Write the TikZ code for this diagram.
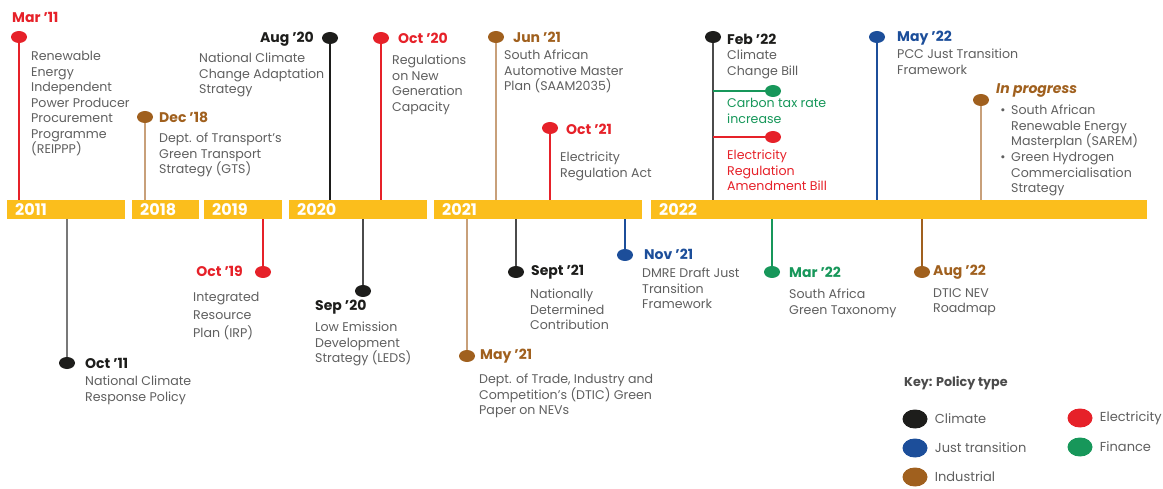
\documentclass[tikz,border=0pt]{standalone}
\usepackage{fontspec}
\setmainfont{Poppins}
\usetikzlibrary{positioning,shapes.geometric}
\definecolor{tlyellow}{RGB}{251,190,28}
\definecolor{tlred}{RGB}{230,33,41}
\definecolor{tlblack}{RGB}{29,29,27}
\definecolor{tlblue}{RGB}{28,78,154}
\definecolor{tlbrown}{RGB}{160,96,30}
\definecolor{tlgreen}{RGB}{23,151,90}
\definecolor{tltan}{RGB}{200,160,122}
\definecolor{tlgray}{RGB}{120,120,120}
\definecolor{tldgray}{RGB}{75,75,75}
\definecolor{txtgray}{RGB}{95,95,95}
\tikzset{yearbar/.style={rectangle, fill=tlyellow, inner sep=0pt, minimum height=19pt, anchor=north west}}
\tikzset{yeartxt/.style={text=white, font=\bfseries\fontsize{16}{16}\selectfont, inner sep=0pt, anchor=west}}
\tikzset{dot/.style={ellipse, fill=#1, inner sep=0pt, minimum width=16pt, minimum height=12pt}}
\tikzset{keydot/.style={ellipse, fill=#1, inner sep=0pt, minimum width=25pt, minimum height=19pt}}
\tikzset{stem/.style={draw=#1, line width=2pt}}
\tikzset{datelbl/.style={text=#1, font=\bfseries\fontsize{14}{16}\selectfont, inner sep=0pt, anchor=west}}
\tikzset{desc/.style={text=txtgray, font=\fontsize{12.6}{15.5}\selectfont, align=left, inner sep=0pt, anchor=north west}}

\begin{document}
\begin{tikzpicture}[x=1pt,y=-1pt]
    \useasboundingbox (0,0) rectangle (1163,489);

    % year bars
    \foreach \yr/\xa/\w in {2011/7/118, 2018/132/67, 2019/204/78, 2020/289/138, 2021/434/208, 2022/651/496} {
            \node[yearbar, minimum width=\w pt] (bar\yr) at (\xa,200) {};
            \node[yeartxt, right=8pt of bar\yr.west] (lbl\yr) {\yr};
        }

    % events above the bars
    \node[dot=tlred] (mar11) at (19,37) {};
    \node[datelbl=tlred] (mar11d) at (12,17) {Mar '11};
    \node[desc] (mar11t) at (31,51) {Renewable\\Energy\\Independent\\Power Producer\\Procurement\\Programme\\(REIPPP)};

    \node[dot=tlbrown] (dec18) at (145,117) {};
    \node[datelbl=tlbrown] (dec18d) at (159,117) {Dec '18};
    \node[desc] (dec18t) at (159,133) {Dept. of Transport's\\Green Transport\\Strategy (GTS)};

    \node[dot=tlblack] (aug20) at (330,38) {};
    \node[datelbl=tlblack, anchor=east] (aug20d) at (314,39) {Aug '20};
    \node[desc] (aug20t) at (199,53) {National Climate\\Change Adaptation\\Strategy};

    \node[dot=tlred] (oct20) at (381,38) {};
    \node[datelbl=tlred] (oct20d) at (398,38) {Oct '20};
    \node[desc] (oct20t) at (392,55) {Regulations\\on New\\Generation\\Capacity};

    \node[dot=tlbrown] (jun21) at (496,37) {};
    \node[datelbl=tlbrown] (jun21d) at (513,37) {Jun '21};
    \node[desc] (jun21t) at (504,50) {South African\\Automotive Master\\Plan (SAAM2035)};

    \node[dot=tlred] (oct21) at (550,128) {};
    \node[datelbl=tlred] (oct21d) at (566,129) {Oct '21};
    \node[desc] (oct21t) at (560,152) {Electricity\\Regulation Act};

    \node[dot=tlblack] (feb22) at (713,37) {};
    \node[datelbl=tlblack] (feb22d) at (727,39) {Feb '22};
    \node[desc] (feb22t) at (727,50) {Climate\\Change Bill};
    \node[dot=tlgreen] (carbon) at (773,91) {};
    \node[desc, text=tlgreen] (carbont) at (727,98) {Carbon tax rate\\increase};
    \node[dot=tlred] (erab) at (773,137) {};
    \node[desc, text=tlred] (erabt) at (727,150) {Electricity\\Regulation\\Amendment Bill};

    \node[dot=tlblue] (may22) at (877,37) {};
    \node[datelbl=tlblue] (may22d) at (897,38) {May '22};
    \node[desc] (may22t) at (897,49) {PCC Just Transition\\Framework};

    \node[dot=tlbrown] (inprog) at (981,100) {};
    \node[datelbl=tlbrown, font=\bfseries\itshape\fontsize{14}{16}\selectfont] (inprogd) at (996,91) {In progress};
    \node[desc, anchor=center] (bullet1) at (1003,112) {\textbullet};
    \node[desc] (inprogt1) at (1011,105) {South African\\Renewable Energy\\Masterplan (SAREM)};
    \node[desc, anchor=center] (bullet2) at (1003,159) {\textbullet};
    \node[desc] (inprogt2) at (1011,152) {Green Hydrogen\\Commercialisation\\Strategy};

    % events below the bars
    \node[dot=tlblack] (oct11) at (67,363) {};
    \node[datelbl=tlblack] (oct11d) at (85,363) {Oct '11};
    \node[desc] (oct11t) at (85,376) {National Climate\\Response Policy};

    \node[dot=tlred] (oct19) at (263,272) {};
    \node[datelbl=tlred, anchor=east] (oct19d) at (243,271) {Oct '19};
    \node[desc, font=\fontsize{12.6}{18}\selectfont] (oct19t) at (193,292) {Integrated\\Resource\\Plan (IRP)};

    \node[dot=tlblack] (sep20) at (363,291) {};
    \node[datelbl=tlblack] (sep20d) at (315,307) {Sep '20};
    \node[desc] (sep20t) at (315,322) {Low Emission\\Development\\Strategy (LEDS)};

    \node[dot=tlbrown] (may21) at (467,356) {};
    \node[datelbl=tlbrown] (may21d) at (480,356) {May '21};
    \node[desc] (may21t) at (479,374) {Dept. of Trade, Industry and\\Competition's (DTIC) Green\\Paper on NEVs};

    \node[dot=tlblack] (sept21) at (516,272) {};
    \node[datelbl=tlblack] (sept21d) at (531,272) {Sept '21};
    \node[desc] (sept21t) at (530,289) {Nationally\\Determined\\Contribution};

    \node[dot=tlblue] (nov21) at (625,255) {};
    \node[datelbl=tlblue] (nov21d) at (644,254) {Nov '21};
    \node[desc] (nov21t) at (642,268) {DMRE Draft Just\\Transition\\Framework};

    \node[dot=tlgreen] (mar22) at (772,272) {};
    \node[datelbl=tlgreen] (mar22d) at (789,272) {Mar '22};
    \node[desc] (mar22t) at (789,289) {South Africa\\Green Taxonomy};

    \node[dot=tlbrown] (aug22) at (922,272) {};
    \node[datelbl=tlbrown] (aug22d) at (933,272) {Aug '22};
    \node[desc] (aug22t) at (933,288) {DTIC NEV\\Roadmap};

    % stems
    \foreach \ev/\yr/\col in {mar11/2011/tlred, dec18/2018/tltan, aug20/2020/tlblack, oct20/2020/tlred, jun21/2021/tltan, oct21/2021/tlred, feb22/2022/tldgray, may22/2022/tlblue, inprog/2022/tltan} {
            \draw[stem=\col] (\ev) -- (\ev |- bar\yr.north);
        }
    \foreach \ev/\yr/\col in {oct11/2011/tlgray, oct19/2019/tlred, sep20/2020/tldgray, may21/2021/tltan, sept21/2021/tldgray, nov21/2021/tlblue, mar22/2022/tlgreen, aug22/2022/tlbrown} {
            \draw[stem=\col] (\ev |- bar\yr.south) -- (\ev);
        }
    \draw[stem=tlgreen] (carbon -| feb22) -- (carbon);
    \draw[stem=tlred] (erab -| feb22) -- (erab);

    % key
    \node[datelbl=tldgray, font=\bfseries\fontsize{12.7}{15}\selectfont] (keyhead) at (904,383) {Key: Policy type};
    \foreach \k/\col/\x/\y/\txt in {climate/tlblack/915/419/Climate, just/tlblue/915/448/Just transition, industrial/tlbrown/915/477/Industrial, electricity/tlred/1080/418/Electricity, finance/tlgreen/1080/447/Finance} {
            \node[keydot=\col] (key\k) at (\x,\y) {};
            \node[desc, anchor=west, font=\fontsize{13}{15}\selectfont, right=7pt of key\k] (key\k t) {\txt};
        }

\end{tikzpicture}
\end{document}
